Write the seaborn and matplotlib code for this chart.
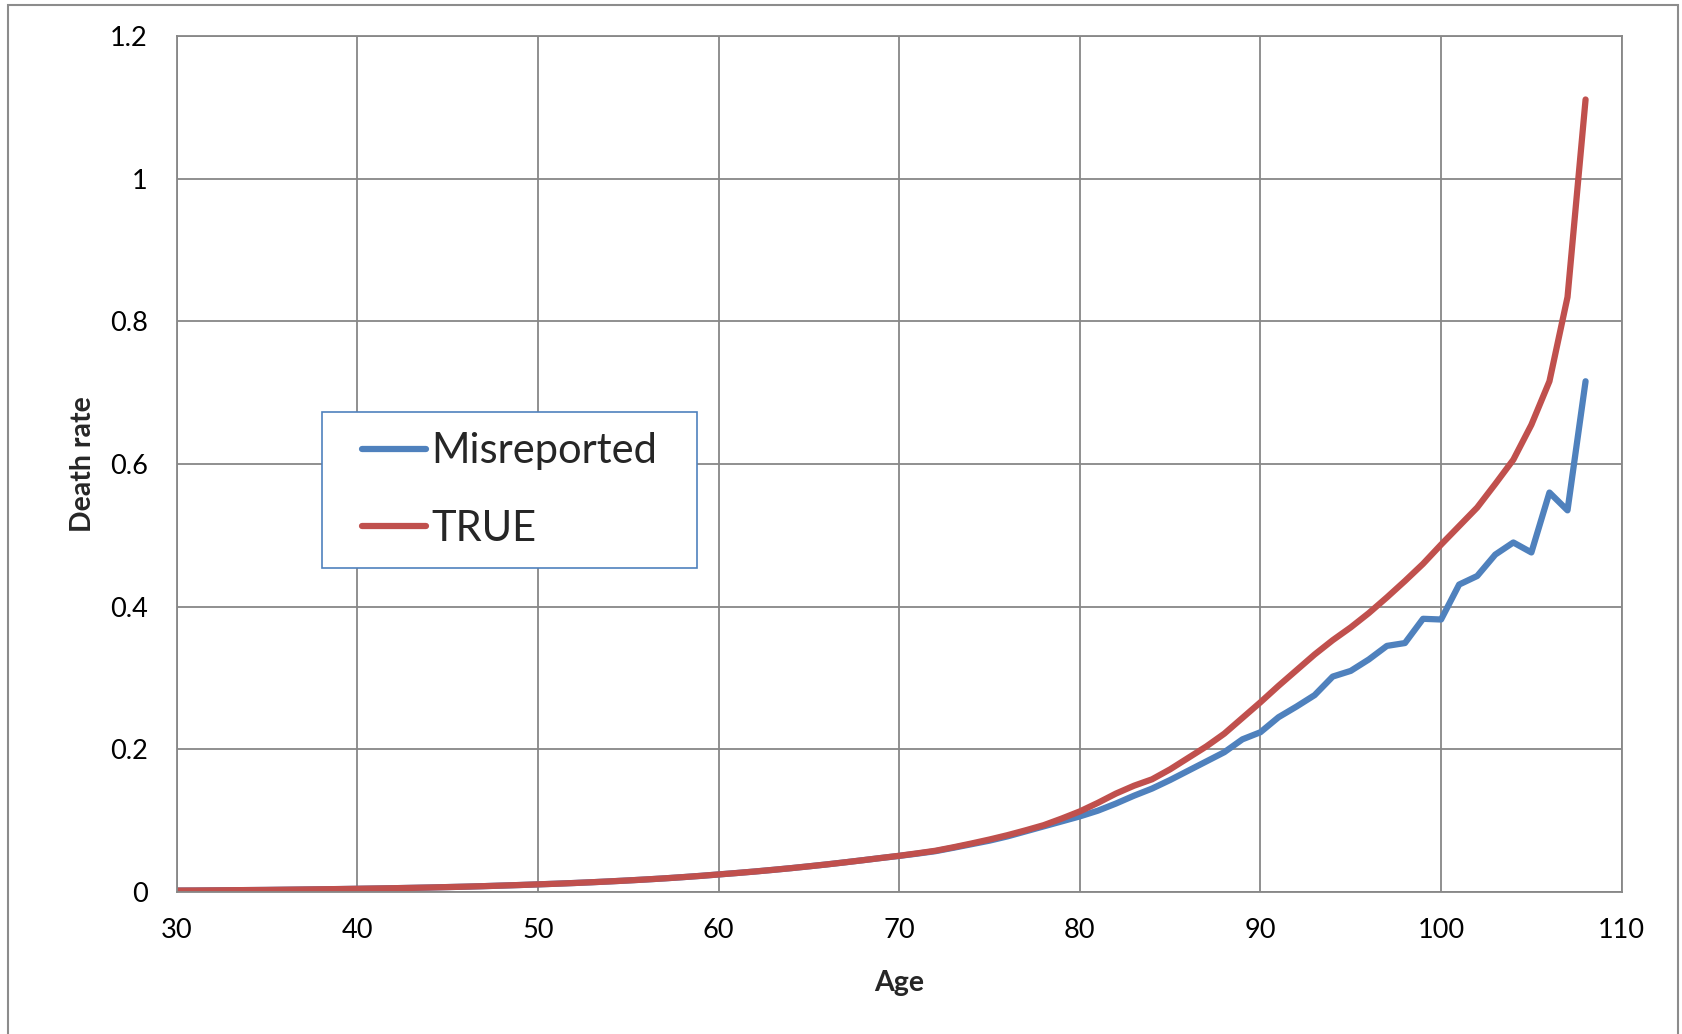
import matplotlib
matplotlib.use("Agg")
import matplotlib.pyplot as plt
from matplotlib.patches import Rectangle
from matplotlib.ticker import FuncFormatter, MultipleLocator
import pandas as pd
import seaborn as sns

# Age range of the life table
ages = list(range(30, 109))

# Death rates by single year of age, true values
true_rate = [
    0.0020, 0.0021, 0.0023, 0.0025, 0.0027, 0.0029, 0.0032, 0.0035, 0.0038, 0.0041,
    0.0045, 0.0049, 0.0053, 0.0058, 0.0063, 0.0069, 0.0075, 0.0082, 0.0090, 0.0098,
    0.0107, 0.0116, 0.0126, 0.0137, 0.0149, 0.0162, 0.0176, 0.0191, 0.0208, 0.0226,
    0.0246, 0.0266, 0.0287, 0.0310, 0.0334, 0.0360, 0.0387, 0.0416, 0.0446, 0.0477,
    0.0508, 0.0542, 0.0578, 0.0627, 0.0680, 0.0736, 0.0797, 0.0865, 0.0937, 0.1030,
    0.1130, 0.1250, 0.1380, 0.1490, 0.1580, 0.1720, 0.1880, 0.2040, 0.2220, 0.2440,
    0.2660, 0.2890, 0.3110, 0.3330, 0.3530, 0.3710, 0.3910, 0.4130, 0.4360, 0.4600,
    0.4870, 0.5130, 0.5390, 0.5720, 0.6060, 0.6550, 0.7160, 0.8340, 1.1110,
]

# Death rates computed from misreported ages
misreported_rate = [
    0.0020, 0.0021, 0.0023, 0.0025, 0.0027, 0.0029, 0.0032, 0.0035, 0.0038, 0.0041,
    0.0045, 0.0049, 0.0053, 0.0058, 0.0063, 0.0069, 0.0075, 0.0082, 0.0090, 0.0098,
    0.0107, 0.0116, 0.0126, 0.0137, 0.0149, 0.0162, 0.0176, 0.0191, 0.0208, 0.0226,
    0.0246, 0.0266, 0.0287, 0.0310, 0.0334, 0.0360, 0.0387, 0.0416, 0.0446, 0.0477,
    0.0506, 0.0538, 0.0572, 0.0620, 0.0670, 0.0720, 0.0780, 0.0850, 0.0920, 0.0990,
    0.1060, 0.1140, 0.1240, 0.1350, 0.1450, 0.1570, 0.1700, 0.1830, 0.1960, 0.2140,
    0.2240, 0.2450, 0.2600, 0.2760, 0.3020, 0.3100, 0.3260, 0.3450, 0.3490, 0.3830,
    0.3820, 0.4310, 0.4430, 0.4730, 0.4900, 0.4760, 0.5600, 0.5350, 0.7160,
]

series_names = ["Misreported", "TRUE"]
series_colors = ["#4F81BD", "#C0504D"]

df = pd.concat([
    pd.DataFrame({"Age": ages, "Death rate": misreported_rate, "Series": series_names[0]}),
    pd.DataFrame({"Age": ages, "Death rate": true_rate, "Series": series_names[1]}),
])

sns.set_style("white")
plt.rcParams["font.family"] = ["Lato", "DejaVu Sans"]

grid_color = "#878787"

fig = plt.figure(figsize=(16.83, 10.34), dpi=100)
ax = fig.add_axes([176.7 / 1683, 1 - 892 / 1034, (1621.7 - 176.7) / 1683, (892 - 36) / 1034])

sns.lineplot(data=df, x="Age", y="Death rate", hue="Series",
             palette=dict(zip(series_names, series_colors)),
             linewidth=4.5, ax=ax, legend=False,
             solid_capstyle="round", solid_joinstyle="round")

ax.set_xlim(30, 110)
ax.set_ylim(0, 1.2)
ax.xaxis.set_major_locator(MultipleLocator(10))
ax.yaxis.set_major_locator(MultipleLocator(0.2))
ax.yaxis.set_major_formatter(FuncFormatter(lambda v, _: f"{v:g}"))

ax.grid(True, color=grid_color, linewidth=1.3)
ax.set_axisbelow(True)
for sp in ax.spines.values():
    sp.set_color(grid_color)
    sp.set_linewidth(1.3)

ax.tick_params(axis="both", which="major", direction="out", length=7,
               width=1.3, color=grid_color, labelsize=19.5, labelcolor="black")
ax.tick_params(axis="y", pad=14)
ax.tick_params(axis="x", pad=12)

ax.set_xlabel("Age", fontsize=20.5, fontweight="bold", labelpad=19)
ax.set_ylabel("Death rate", fontsize=20.5, fontweight="bold", labelpad=10)

# Legend box
ax.add_patch(Rectangle(((322 - 176.7) / 1445, (892 - 568) / 856), 375 / 1445, 156 / 856,
                       transform=ax.transAxes, facecolor="white",
                       edgecolor="#4F81BD", linewidth=1.2, zorder=5))
handles = [plt.Line2D([], [], color=c, linewidth=4.5, solid_capstyle="round")
           for c in series_colors]
leg = ax.legend(handles, series_names, loc="center",
                bbox_to_anchor=((509.5 - 176.7) / 1445, (892 - 490) / 856),
                frameon=False, fontsize=30, handlelength=1.55, handletextpad=0.12,
                labelspacing=0.95, borderpad=0)
leg.set_zorder(6)

# Chart area border
fig.patches.append(Rectangle((8 / 1683, -0.02), (1678 - 8) / 1683, 1.02 - 5 / 1034,
                             transform=fig.transFigure, fill=False,
                             edgecolor="#8c8c8c", linewidth=1.5))

fig.savefig("out.png", dpi=100, facecolor="white")
